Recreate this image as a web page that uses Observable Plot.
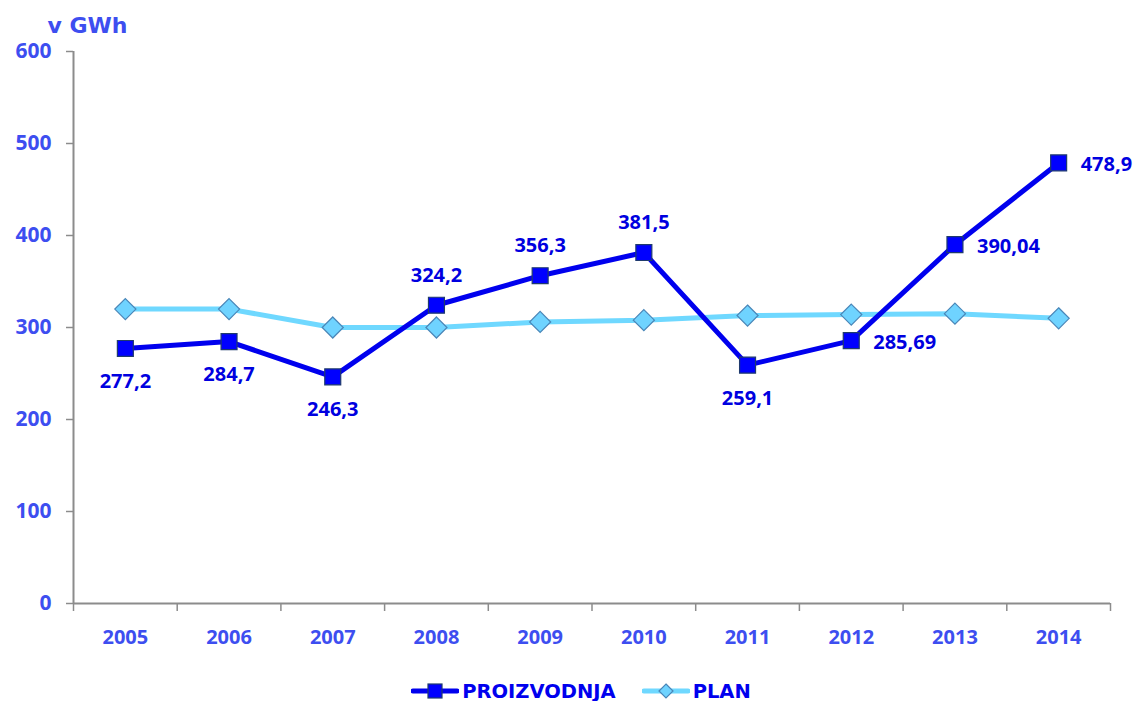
<!DOCTYPE html>
<html>
<head>
<meta charset="utf-8">
<script src="https://cdn.jsdelivr.net/npm/d3@7"></script>
<script src="https://cdn.jsdelivr.net/npm/@observablehq/plot@0.6"></script>
<style>
  html, body { margin: 0; padding: 0; background: #fff; }
  #chart { position: relative; width: 1137px; }
  #legend { display: flex; justify-content: center; align-items: center; gap: 26px;
    font-family: "DejaVu Sans", Verdana, sans-serif; font-weight: bold; font-size: 19.5px; color: #0000ee;
    height: 36px; margin-top: 16px; margin-left: 25px; }
  .item { display: flex; align-items: center; gap: 3px; }
</style>
</head>
<body>
<div id="chart"></div>
<div id="legend"></div>
<script>
const years = [2005, 2006, 2007, 2008, 2009, 2010, 2011, 2012, 2013, 2014];
const proizvodnja = [277.2, 284.7, 246.3, 324.2, 356.3, 381.5, 259.1, 285.69, 390.04, 478.9];
const proizvodnjaLabels = ["277,2", "284,7", "246,3", "324,2", "356,3", "381,5", "259,1", "285,69", "390,04", "478,9"];
const plan = [320, 320, 300, 300, 306, 308, 313, 314, 315, 310];
const yTicks = [0, 100, 200, 300, 400, 500, 600];
const labelsBelow = [2005, 2006, 2007, 2011];
const labelsAbove = [2008, 2009, 2010];
const labelsRight = [2012, 2013, 2014];

const prod = years.map((y, i) => ({year: y, value: proizvodnja[i], label: proizvodnjaLabels[i]}));
const planData = years.map((y, i) => ({year: y, value: plan[i]}));
const boundaries = d3.range(years.length + 1).map(i => years[0] - 0.5 + i);

const axisColor = "#8c8c8c";
const tickLabelColor = "#3d4ef0";
const font = "'Open Sans', Lato, sans-serif";

const chart = Plot.plot({
  width: 1137,
  height: 657,
  marginLeft: 73,
  marginRight: 27,
  marginTop: 51,
  marginBottom: 54,
  style: {fontFamily: font, background: "white"},
  x: {type: "linear", domain: [years[0] - 0.5, years[years.length - 1] + 0.5]},
  y: {domain: [0, 600]},
  marks: [
    Plot.axisY({ticks: yTicks, tickSize: 7, stroke: axisColor, strokeWidth: 1.5, tickPadding: 15,
      fill: tickLabelColor, fontSize: 21, fontWeight: "bold", label: null, tickFormat: d => String(d)}),
    Plot.ruleX([years[0] - 0.5], {stroke: axisColor, strokeWidth: 2}),
    Plot.ruleY([0], {stroke: axisColor, strokeWidth: 2}),
    Plot.axisX({ticks: boundaries, tickSize: 8, stroke: axisColor, strokeWidth: 1.5, tickFormat: () => "", label: null}),
    Plot.axisX({ticks: years, tickSize: 0, tickPadding: 26, fill: tickLabelColor, fontSize: 20, fontWeight: "bold",
      tickFormat: d => String(d), label: null}),
    Plot.text(["v GWh"], {frameAnchor: "top-left", dx: -26, dy: -34, fill: tickLabelColor, fontSize: 22,
      fontWeight: "bold", fontFamily: "'DejaVu Sans', Verdana, sans-serif", textAnchor: "start"}),
    Plot.line(planData, {x: "year", y: "value", stroke: "#6fd8ff", strokeWidth: 5}),
    Plot.dot(planData, {x: "year", y: "value", symbol: "diamond2", r: 9.5, fill: "#6fd3ff", stroke: "#4a86b8", strokeWidth: 1.2}),
    Plot.line(prod, {x: "year", y: "value", stroke: "#0000ee", strokeWidth: 5}),
    Plot.dot(prod, {x: "year", y: "value", symbol: "square", r: 9, fill: "#0000ff", stroke: "#1f3a6e", strokeWidth: 1.2}),
    Plot.text(prod.filter(d => labelsBelow.includes(d.year)), {x: "year", y: "value", text: "label", dy: 33,
      fill: "#0000e0", fontSize: 20, fontWeight: "bold"}),
    Plot.text(prod.filter(d => labelsAbove.includes(d.year)), {x: "year", y: "value", text: "label", dy: -30,
      fill: "#0000e0", fontSize: 20, fontWeight: "bold"}),
    Plot.text(prod.filter(d => labelsRight.includes(d.year)), {x: "year", y: "value", text: "label", dx: 22, dy: 2,
      textAnchor: "start", fill: "#0000e0", fontSize: 20, fontWeight: "bold"})
  ]
});
document.getElementById("chart").appendChild(chart);

function sample(color, symbol, fill, stroke) {
  const s = d3.create("svg").attr("width", 48).attr("height", 20);
  s.append("line").attr("x1", 2).attr("x2", 46).attr("y1", 10).attr("y2", 10)
    .attr("stroke", color).attr("stroke-width", 5).attr("stroke-linecap", "round");
  if (symbol === "square") {
    s.append("rect").attr("x", 17).attr("y", 3).attr("width", 14).attr("height", 14)
      .attr("fill", fill).attr("stroke", stroke).attr("stroke-width", 1.2);
  } else {
    s.append("path").attr("d", "M24,3 L31,10 L24,17 L17,10 Z").attr("fill", fill).attr("stroke", stroke).attr("stroke-width", 1.2);
  }
  return s.node();
}
const legend = document.getElementById("legend");
[["PROIZVODNJA", "#0000ee", "square", "#0000ff", "#1f3a6e"], ["PLAN", "#6fd8ff", "diamond", "#6fd3ff", "#4a86b8"]]
  .forEach(([name, c, sym, f, st]) => {
    const it = document.createElement("div");
    it.className = "item";
    it.appendChild(sample(c, sym, f, st));
    const t = document.createElement("span");
    t.textContent = name;
    it.appendChild(t);
    legend.appendChild(it);
  });
</script>
</body>
</html>
